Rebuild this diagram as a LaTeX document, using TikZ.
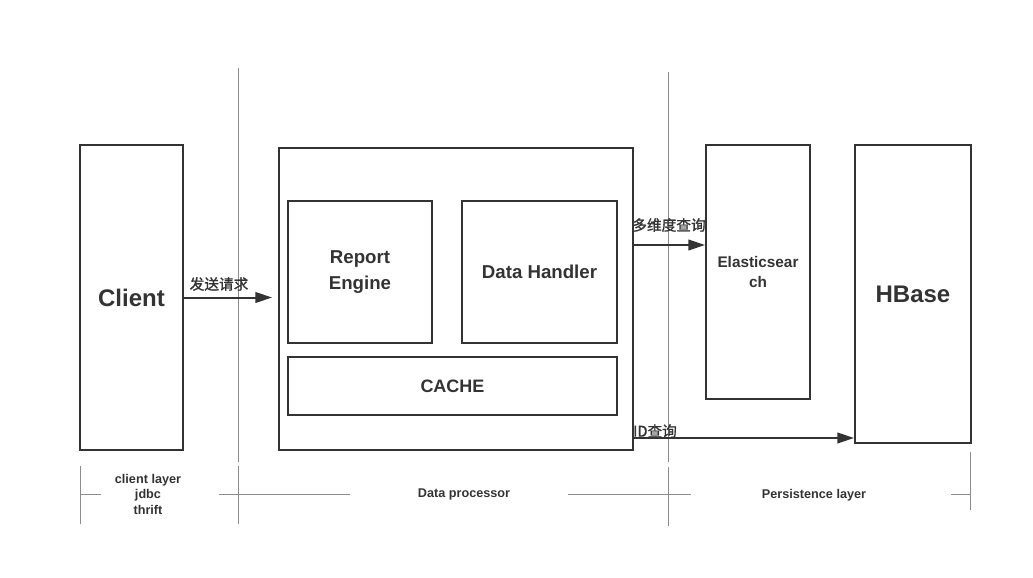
\documentclass[tikz,border=0pt]{standalone}
\usepackage{fontspec}
\setmainfont{Liberation Sans}
\newfontfamily\cjk[FakeBold=1.2]{Noto Sans CJK SC}
\usetikzlibrary{arrows.meta}
\tikzset{every picture/.style={line width=0.75pt}}
\definecolor{ink}{HTML}{333333}
\definecolor{guide}{HTML}{8C8C8C}

\begin{document}
\begin{tikzpicture}[x=0.75pt,y=0.75pt,yscale=-1,
  box/.style 2 args={draw=ink,line width=1.5pt,text=ink,font=\bfseries,align=center,
    minimum width=#1*0.75pt,minimum height=#2*0.75pt,inner sep=0pt},
  flow/.style={draw=ink,line width=1.5pt,-{Triangle[length=12.5pt,width=8pt]}},
  guideline/.style={draw=guide,line width=0.75pt},
  note/.style={text=ink,font=\cjk\fontsize{11}{13}\selectfont,inner sep=0.75pt},
  layer/.style={text=ink,font=\bfseries\fontsize{9.5}{11.6}\selectfont,align=center,inner sep=0.75pt}]
\useasboundingbox (0,0) rectangle (1033,578);

%Guide lines
\draw[guideline] (238,68) -- (238,462) (238,466) -- (238,524);
\draw[guideline] (668,72) -- (668,462) (668,467) -- (668,526);
\draw[guideline] (80,466) -- (80,524) (970,452) -- (970,510);
\draw[guideline] (80,494) -- (101,494) (219,494) -- (350,494);
\draw[guideline] (568,494) -- (691,494) (951,494) -- (970,494);

%Boxes
\node[box={103}{305},font=\bfseries\fontsize{18}{20}\selectfont] (client) at (131.5,297.5) {Client};
\node[box={354}{302}] (proc) at (456,299) {};
\node[box={144}{142},font=\bfseries\fontsize{14}{19}\selectfont] (report) at (360,272) {Report\\Engine};
\node[box={155}{142},font=\bfseries\fontsize{14}{18.5}\selectfont] (handler) at (539.5,272) {Data Handler};
\node[box={329}{58},font=\bfseries\fontsize{13.5}{16}\selectfont] (cache) at (452.5,386) {CACHE};
\node[box={104}{254},font=\bfseries\fontsize{11.5}{15}\selectfont] (es) at (758,272) {Elasticsear\\ch};
\node[box={116}{298},font=\bfseries\fontsize{18}{20}\selectfont] (hbase) at (913,294) {HBase};

%Arrows
\draw[flow,shorten >=4.5pt] (client.east) -- (proc.west |- client.east);
\draw[flow] (proc.east |- 0,245) -- (es.west |- 0,245);
\draw[flow] (proc.east |- 0,438) -- (hbase.west |- 0,438);

% Text Node
\node[note] (send) at (219,284) {发送请求};
\node[note] (multi) at (669,225) {多维度查询};
\node[note] (byid) at (655,431) {ID查询};
\node[layer] (clientlayer) at (148,494) {client layer\\jdbc\\thrift};
\node[layer] (proclayer) at (464,494) {Data processor};
\node[layer] (persistlayer) at (814,495) {Persistence layer};

\end{tikzpicture}
\end{document}
